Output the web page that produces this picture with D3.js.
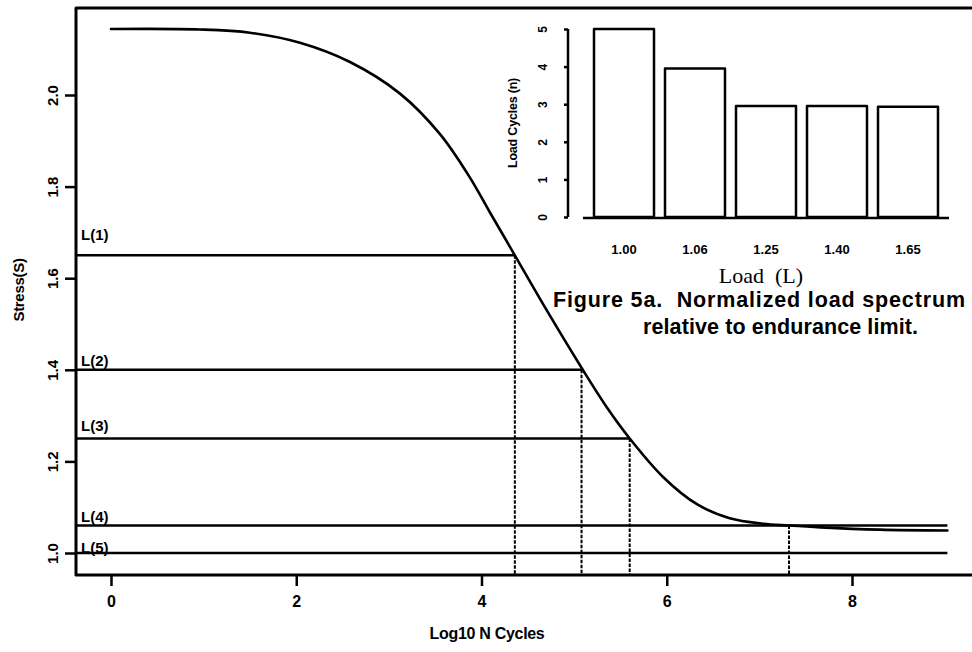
<!DOCTYPE html>
<html>
<head>
<meta charset="utf-8">
<script src="https://cdn.jsdelivr.net/npm/d3@7/dist/d3.min.js"></script>
<style>
  html, body { margin: 0; padding: 0; background: #fff; }
  svg { display: block; }
  text { font-family: "Liberation Sans", Arial, Helvetica, sans-serif; fill: #000; }
</style>
</head>
<body>
<svg id="chart" width="972" height="652"></svg>
<script>
// ---------------- data ----------------
const stressTicks = [1.0, 1.2, 1.4, 1.6, 1.8, 2.0];
const cycleTicks = [0, 2, 4, 6, 8];

// S-N curve (log10 N, stress S)
const curveLogN   = [0.00, 0.96, 1.50, 2.04, 2.58, 3.12, 3.55, 3.88, 4.09, 4.36, 4.71, 5.10, 5.36, 5.60, 5.96, 6.33, 6.68, 7.04, 7.32, 7.66, 8.30, 9.03];
const curveStress = [2.144, 2.143, 2.136, 2.114, 2.072, 2.003, 1.915, 1.818, 1.744, 1.650, 1.528, 1.398, 1.316, 1.250, 1.166, 1.106, 1.076, 1.064, 1.060, 1.056, 1.051, 1.049];

// load levels
const loadNames  = ["L(1)", "L(2)", "L(3)", "L(4)", "L(5)"];
const loadLevels = [1.65, 1.40, 1.25, 1.06, 1.00];
const lifeLogN   = [4.36, 5.08, 5.60, 7.32, null];   // dashed drop lines
const lineEndLogN = [4.36, 5.08, 5.60, 9.03, 9.03];  // where each level line stops

// inset bar chart
const barLoads  = ["1.00", "1.06", "1.25", "1.40", "1.65"];
const barCycles = [5, 3.95, 2.95, 2.95, 2.93];
const barTicks  = [0, 1, 2, 3, 4, 5];

// ---------------- layout ----------------
const svg = d3.select("#chart");
const plotLeft = 76, plotTop = 8, plotBottom = 575, plotRight = 972;
const labelDy = [15, 4, 8, 4, 0];

const x = d3.scaleLinear().domain([0, 8]).range([111, 852]);
const y = d3.scaleLinear().domain([1.0, 2.0]).range([553, 95]);

// frame (left, top, bottom)
svg.append("path")
  .attr("d", `M${plotRight},${plotTop}H${plotLeft}V${plotBottom}H${plotRight}`)
  .attr("fill", "none").attr("stroke", "#000").attr("stroke-width", 3)
  .attr("stroke-linejoin", "round");

// y axis
const yAxis = svg.append("g").attr("transform", `translate(${plotLeft},0)`)
  .call(d3.axisLeft(y).tickValues(stressTicks).tickSize(11).tickFormat(d3.format(".1f")));
yAxis.select(".domain").remove();
yAxis.selectAll(".tick line").attr("stroke", "#000").attr("stroke-width", 2.5);
yAxis.selectAll(".tick text")
  .attr("x", null).attr("dy", null)
  .attr("transform", "translate(-18,0) rotate(-90)")
  .attr("text-anchor", "middle")
  .attr("font-size", 15).attr("font-weight", "bold")
  .style("font-family", "'Liberation Sans', Arial, sans-serif");

// x axis
const xAxis = svg.append("g").attr("transform", `translate(0,${plotBottom})`)
  .call(d3.axisBottom(x).tickValues(cycleTicks).tickSize(11).tickFormat(d3.format("d")));
xAxis.select(".domain").remove();
xAxis.selectAll(".tick line").attr("stroke", "#000").attr("stroke-width", 2.5);
xAxis.selectAll(".tick text")
  .attr("y", 32).attr("dy", null)
  .attr("font-size", 16).attr("font-weight", "bold")
  .style("font-family", "'Liberation Sans', Arial, sans-serif");

// axis titles
svg.append("text")
  .attr("transform", `translate(24,290) rotate(-90)`)
  .attr("text-anchor", "middle").attr("font-size", 15).attr("font-weight", "bold")
  .attr("letter-spacing", -0.3)
  .text("Stress(S)");
svg.append("text")
  .attr("x", 487).attr("y", 639)
  .attr("text-anchor", "middle").attr("font-size", 16).attr("font-weight", "bold")
  .attr("letter-spacing", -0.3)
  .text("Log10 N Cycles");

// level lines
const levels = loadLevels.map((v, i) => ({ v, name: loadNames[i], end: lineEndLogN[i], life: lifeLogN[i], dy: labelDy[i] }));
svg.append("g").selectAll("line").data(levels).join("line")
  .attr("x1", plotLeft).attr("x2", d => x(d.end))
  .attr("y1", d => y(d.v)).attr("y2", d => y(d.v))
  .attr("stroke", "#000").attr("stroke-width", 2.5);

svg.append("g").selectAll("text").data(levels).join("text")
  .attr("x", 81).attr("y", d => y(d.v) - d.dy)
  .attr("font-size", 15).attr("font-weight", "bold")
  .text(d => d.name);

// dashed drop lines
svg.append("g").selectAll("line").data(levels.filter(d => d.life !== null)).join("line")
  .attr("x1", d => x(d.life)).attr("x2", d => x(d.life))
  .attr("y1", d => y(d.v)).attr("y2", plotBottom)
  .attr("stroke", "#000").attr("stroke-width", 2)
  .attr("stroke-dasharray", "3.5,1.5");

// S-N curve
const curvePts = curveLogN.map((n, i) => [n, curveStress[i]]);
svg.append("path")
  .datum(curvePts)
  .attr("d", d3.line().x(d => x(d[0])).y(d => y(d[1])).curve(d3.curveCatmullRom.alpha(0.5)))
  .attr("fill", "none").attr("stroke", "#000").attr("stroke-width", 2.6)
  .attr("stroke-linecap", "round");

// ---------------- inset bar chart ----------------
const bx = d3.scaleBand().domain(barLoads).range([583, 949]).paddingInner(0.155).paddingOuter(0.155);
const by = d3.scaleLinear().domain([0, 5]).range([217, 29]);

svg.append("g").selectAll("rect").data(barLoads).join("rect")
  .attr("x", d => bx(d)).attr("width", bx.bandwidth())
  .attr("y", (d, i) => by(barCycles[i]))
  .attr("height", (d, i) => by(0) - by(barCycles[i]))
  .attr("fill", "#fff").attr("stroke", "#000").attr("stroke-width", 2.5)
  .attr("stroke-linejoin", "round");

// baseline
svg.append("line")
  .attr("x1", 583).attr("x2", 949).attr("y1", by(0) + 1).attr("y2", by(0) + 1)
  .attr("stroke", "#000").attr("stroke-width", 2.6);

// inset y axis
const iy = svg.append("g").attr("transform", "translate(568,0)")
  .call(d3.axisLeft(by).tickValues(barTicks).tickSize(4).tickSizeOuter(0).tickFormat(d3.format("d")));
iy.select(".domain").attr("stroke", "#000").attr("stroke-width", 2.5)
  .attr("d", `M0,${by(5)}V${by(0)}`);
iy.selectAll(".tick line").attr("stroke", "#000").attr("stroke-width", 2.5);
iy.selectAll(".tick text")
  .attr("x", null).attr("dy", null)
  .attr("transform", "translate(-21,0) rotate(-90)")
  .attr("text-anchor", "middle")
  .attr("font-size", 12).attr("font-weight", "bold")
  .style("font-family", "'Liberation Sans', Arial, sans-serif");

svg.append("text")
  .attr("transform", "translate(517,123) rotate(-90)")
  .attr("text-anchor", "middle").attr("font-size", 12.5).attr("font-weight", "bold")
  .attr("letter-spacing", -0.2)
  .text("Load Cycles (n)");

// inset x labels
const ix = svg.append("g").attr("transform", `translate(0,${by(0)})`)
  .call(d3.axisBottom(bx).tickSize(0));
ix.select(".domain").remove();
ix.selectAll(".tick text")
  .attr("y", 37).attr("dy", null)
  .attr("font-size", 13).attr("font-weight", "bold")
  .style("font-family", "'Liberation Sans', Arial, sans-serif");

svg.append("text")
  .attr("x", 761).attr("y", 283).attr("text-anchor", "middle")
  .attr("font-size", 22)
  .style("font-family", "'Liberation Serif', 'Times New Roman', serif")
  .style("white-space", "pre")
  .text("Load  (L)");

// caption
svg.append("text")
  .attr("x", 553).attr("y", 307)
  .attr("font-size", 21.5).attr("font-weight", "bold")
  .attr("textLength", 412).attr("lengthAdjust", "spacing")
  .style("white-space", "pre")
  .text("Figure 5a.  Normalized load spectrum");
svg.append("text")
  .attr("x", 643).attr("y", 334)
  .attr("font-size", 21.5).attr("font-weight", "bold")
  .attr("textLength", 275).attr("lengthAdjust", "spacing")
  .text("relative to endurance limit.");
</script>
</body>
</html>
